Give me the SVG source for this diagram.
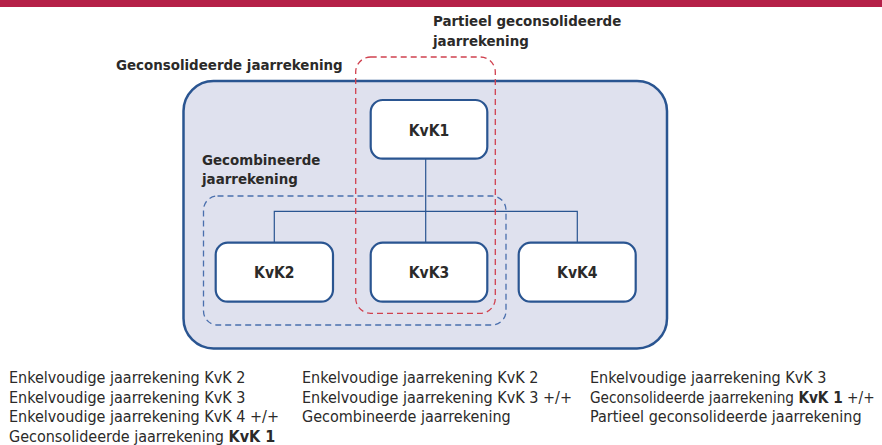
<svg xmlns="http://www.w3.org/2000/svg" width="882" height="445" viewBox="0 0 882 445">
<style>
text { font-family: "DejaVu Sans Condensed", "Liberation Sans", sans-serif; fill: #2b2a29; }
.lbl { font-size: 14.9px; font-weight: bold; }
.node rect { fill: #ffffff; stroke: #2a5591; stroke-width: 2.2; }
.node text { font-size: 15.5px; font-weight: bold; text-anchor: middle; }
.body { font-size: 16px; }
.conn { stroke: #2a5591; stroke-width: 1.2; fill: none; }
</style>
<rect x="0" y="0" width="882" height="7" fill="#b52048"/>
<g id="group-geconsolideerd">
<rect x="183.5" y="81" width="483.5" height="267.5" rx="30" fill="#dfe1ee" stroke="#2a5591" stroke-width="2.5"/>
<text class="lbl" x="116" y="70">Geconsolideerde jaarrekening</text>
</g>
<g id="group-gecombineerd">
<rect x="203.5" y="196" width="302.5" height="129" rx="14" fill="none" stroke="#4a6fad" stroke-width="1.3" stroke-dasharray="6,4"/>
<text class="lbl" x="202" y="165">Gecombineerde</text>
<text class="lbl" x="202" y="184">jaarrekening</text>
</g>
<g id="connectors">
<line class="conn" x1="425.7" y1="158.7" x2="425.7" y2="242.7"/>
<polyline class="conn" points="274.3,242.7 274.3,211.3 577.3,211.3 577.3,242.7"/>
</g>
<g id="kvk1" class="node">
<rect x="370.7" y="100" width="116.6" height="58.7" rx="12"/>
<text x="429" y="135.5">KvK1</text>
</g>
<g id="kvk2" class="node">
<rect x="215.7" y="242.7" width="117.3" height="59" rx="12"/>
<text x="274.3" y="277.5">KvK2</text>
</g>
<g id="kvk3" class="node">
<rect x="370.7" y="242.7" width="116.6" height="59" rx="12"/>
<text x="429" y="277.5">KvK3</text>
</g>
<g id="kvk4" class="node">
<rect x="518.7" y="242.7" width="117" height="59" rx="12"/>
<text x="577.3" y="277.5">KvK4</text>
</g>
<g id="group-partieel">
<rect x="355.7" y="57" width="139.6" height="256.3" rx="15" fill="none" stroke="#d0414f" stroke-width="1.3" stroke-dasharray="6,4"/>
<text class="lbl" x="433" y="26">Partieel geconsolideerde</text>
<text class="lbl" x="433" y="46">jaarrekening</text>
</g>
<g id="legend">
<text class="body" x="9" y="383">Enkelvoudige jaarrekening KvK 2</text>
<text class="body" x="9" y="402.5">Enkelvoudige jaarrekening KvK 3</text>
<text class="body" x="9" y="422">Enkelvoudige jaarrekening KvK 4 +/+</text>
<text class="body" x="9" y="441.5" font-size="15.7">Geconsolideerde jaarrekening <tspan font-weight="bold">KvK 1</tspan></text>
<text class="body" x="302" y="383">Enkelvoudige jaarrekening KvK 2</text>
<text class="body" x="302" y="402.5">Enkelvoudige jaarrekening KvK 3 +/+</text>
<text class="body" x="302" y="422">Gecombineerde jaarrekening</text>
<text class="body" x="590" y="383">Enkelvoudige jaarrekening KvK 3</text>
<text class="body" x="590" y="402.5" style="font-size:15.2px">Geconsolideerde jaarrekening <tspan font-weight="bold">KvK 1</tspan> +/+</text>
<text class="body" x="590" y="422">Partieel geconsolideerde jaarrekening</text>
</g>
</svg>
